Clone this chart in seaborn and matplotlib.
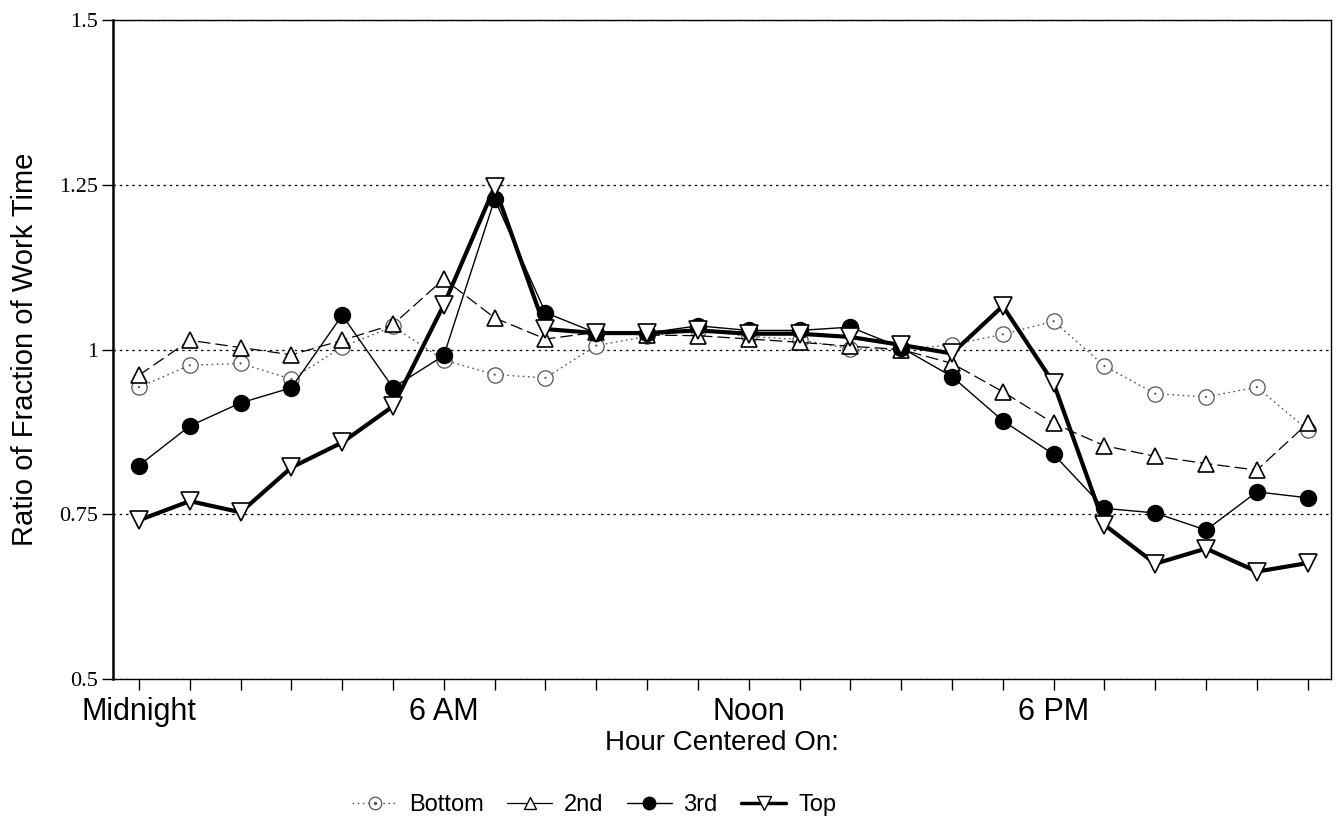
import matplotlib
matplotlib.use("Agg")
import matplotlib.pyplot as plt
import seaborn as sns
from matplotlib.lines import Line2D
from matplotlib.legend_handler import HandlerTuple
from matplotlib import font_manager

# ---------------- data ----------------
hours = list(range(24))
bottom = [0.943, 0.976, 0.979, 0.955, 1.004, 1.035, 0.984, 0.962, 0.957, 1.006, 1.020, 1.030,
          1.020, 1.015, 1.001, 1.000, 1.007, 1.023, 1.043, 0.975, 0.933, 0.928, 0.943, 0.878]
second = [0.961, 1.014, 1.003, 0.992, 1.014, 1.038, 1.107, 1.048, 1.016, 1.026, 1.022, 1.021,
          1.016, 1.011, 1.005, 1.000, 0.979, 0.936, 0.888, 0.854, 0.838, 0.827, 0.817, 0.888]
third = [0.824, 0.884, 0.919, 0.942, 1.052, 0.942, 0.991, 1.228, 1.056, 1.025, 1.025, 1.036,
         1.029, 1.029, 1.034, 1.003, 0.959, 0.892, 0.841, 0.759, 0.752, 0.726, 0.784, 0.775]
top = [0.741, 0.770, 0.753, 0.821, 0.859, 0.914, 1.068, 1.247, 1.031, 1.025, 1.025, 1.029,
       1.024, 1.024, 1.019, 1.007, 0.994, 1.066, 0.949, 0.734, 0.675, 0.698, 0.663, 0.676]
series_names = ["Bottom", "2nd", "3rd", "Top"]
xtick_labels = ["Midnight", "", "", "", "", "", "6 AM", "", "", "", "", "",
                "Noon", "", "", "", "", "", "6 PM", "", "", "", "", ""]
yticks = [0.5, 0.75, 1.0, 1.25, 1.5]
ytick_labels = ["0.5", "0.75", "1", "1.25", "1.5"]

# ---------------- style ----------------
sns.set_style("white")
available = {f.name for f in font_manager.fontManager.ttflist}
sans = "Liberation Sans" if "Liberation Sans" in available else "DejaVu Sans"
serif = "Liberation Serif" if "Liberation Serif" in available else "DejaVu Serif"
plt.rcParams["font.family"] = [sans, "DejaVu Sans"]
plt.rcParams["text.color"] = "black"
plt.rcParams["axes.labelcolor"] = "black"
plt.rcParams["xtick.color"] = "black"
plt.rcParams["ytick.color"] = "black"

fig = plt.figure(figsize=(13.38, 8.35), dpi=100)
ax = fig.add_axes([0.0845, 0.1868, 0.9103, 0.7892])

sns.lineplot(x=hours, y=bottom, ax=ax, color="#555555", linestyle=(0, (1.2, 2.5)), linewidth=1.0,
             marker="o", markersize=11, markerfacecolor="white", markeredgecolor="#555555",
             markeredgewidth=0.9, zorder=3)
sns.scatterplot(x=hours, y=bottom, ax=ax, marker=".", s=10, color="#555555",
                edgecolor="none", zorder=3.1)
sns.lineplot(x=hours, y=second, ax=ax, color="black", linestyle=(0, (10, 4)), linewidth=0.9,
             marker="^", markersize=12, markerfacecolor="white", markeredgecolor="black",
             markeredgewidth=1.2, zorder=4)
sns.lineplot(x=hours, y=third, ax=ax, color="black", linestyle="-", linewidth=1.0,
             marker="o", markersize=11.5, markerfacecolor="black", markeredgecolor="black",
             markeredgewidth=1.0, zorder=5)
sns.lineplot(x=hours, y=top, ax=ax, color="black", linestyle="-", linewidth=3.0,
             marker="v", markersize=13, markerfacecolor="white", markeredgecolor="black",
             markeredgewidth=1.2, zorder=6)

ax.set_xlim(-0.51, 23.46)
ax.set_ylim(0.5, 1.5)
ax.set_xticks(hours)
ax.set_xticklabels(xtick_labels, fontsize=22, family=sans, color="black")
ax.set_yticks(yticks)
ax.set_yticklabels(ytick_labels, fontsize=16, family=serif, color="black")
ax.tick_params(axis="x", which="major", bottom=True, direction="out", length=8, width=1,
               color="black", pad=5)
ax.tick_params(axis="y", which="major", left=True, direction="out", length=8, width=1,
               color="black", pad=3)

ax.grid(False)
ax.yaxis.grid(True, linestyle=(0, (2, 3)), color="black", linewidth=0.9)
for side, sp in ax.spines.items():
    sp.set_visible(True)
    sp.set_color("black")
    sp.set_linewidth(1.0)
ax.spines["left"].set_linewidth(1.8)

ax.set_xlabel("Hour Centered On:", fontsize=20, family=sans, labelpad=2, color="black")
ax.set_ylabel("Ratio of Fraction of Work Time", fontsize=21, family=sans, labelpad=14, color="black")

# legend
h_bottom = (Line2D([], [], color="#555555", linestyle=(0, (1.2, 2.5)), linewidth=1.0, marker="o",
                   markersize=9, markerfacecolor="white", markeredgecolor="#555555", markeredgewidth=0.9),
            Line2D([], [], linestyle="", marker=".", markersize=3, color="#555555"))
h_second = Line2D([], [], color="black", linestyle="-", linewidth=0.9, marker="^", markersize=9,
                  markerfacecolor="white", markeredgecolor="black", markeredgewidth=1.0)
h_third = Line2D([], [], color="black", linestyle="-", linewidth=1.0, marker="o", markersize=9,
                 markerfacecolor="black", markeredgecolor="black")
h_top = Line2D([], [], color="black", linestyle="-", linewidth=2.5, marker="v", markersize=10,
               markerfacecolor="white", markeredgecolor="black", markeredgewidth=1.0)
leg = fig.legend([h_bottom, h_second, h_third, h_top], series_names,
                 handler_map={tuple: HandlerTuple(ndivide=1, pad=0)},
                 loc="center", bbox_to_anchor=(0.444, 0.036), ncol=4, frameon=False,
                 prop={"family": sans, "size": 17}, handlelength=1.9, handletextpad=0.5,
                 columnspacing=1.0)
for t in leg.get_texts():
    t.set_color("black")

fig.savefig("out.png", dpi=100)
